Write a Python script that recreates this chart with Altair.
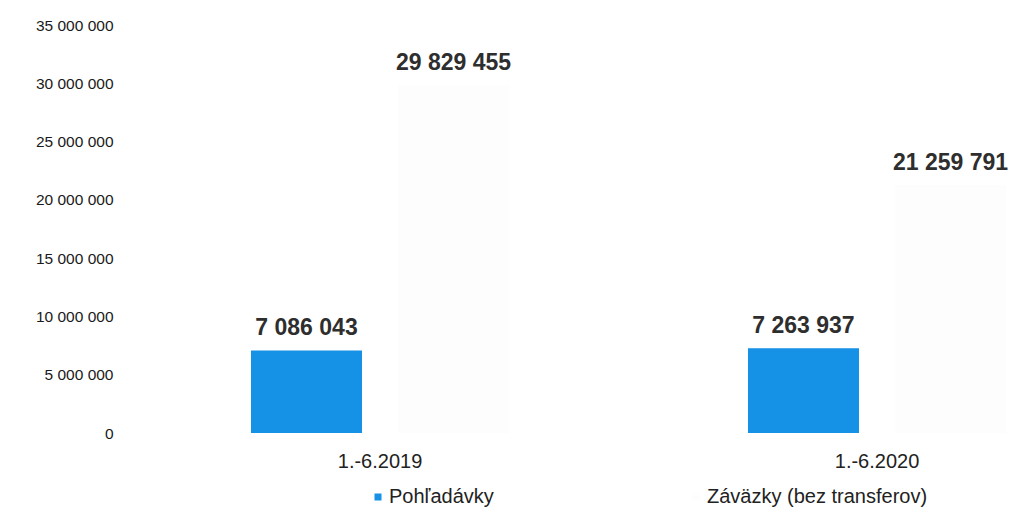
import altair as alt
import pandas as pd

periods = ["1.-6.2019", "1.-6.2020"]
series = ["Pohľadávky", "Záväzky (bez transferov)"]
pohladavky = [7086043, 7263937]
zavazky = [29829455, 21259791]
y_ticks = [0, 5000000, 10000000, 15000000, 20000000, 25000000, 30000000, 35000000]
colors = ["#1591e6", "#fdfdfd"]

rows = []
for i, p in enumerate(periods):
    for s, vals in zip(series, [pohladavky, zavazky]):
        v = vals[i]
        rows.append({"period": p, "series": s, "value": v,
                     "label": f"{v:,}".replace(",", " ")})
df = pd.DataFrame(rows)

FONT = "Liberation Sans"

x_enc = alt.X(
    "period:N", sort=periods, title=None,
    scale=alt.Scale(paddingInner=0.4648, paddingOuter=0.1278, align=1),
    axis=alt.Axis(domain=False, ticks=False, labelAngle=0, labelFont=FONT,
                  labelFontSize=20, labelColor="#222222", labelPadding=18),
)
xoff_enc = alt.XOffset(
    "series:N", sort=series,
    scale=alt.Scale(paddingInner=0.245, paddingOuter=0.027),
)
y_enc = alt.Y(
    "value:Q", title=None,
    scale=alt.Scale(domain=[0, 35000000], nice=False),
    axis=alt.Axis(values=y_ticks, domain=False, ticks=False, grid=False,
                  labelFont=FONT, labelFontSize=15.5, labelColor="#1a1a1a",
                  labelPadding=7,
                  labelExpr="replace(format(datum.value, ',d'), /,/g, ' ')"),
)

base = alt.Chart(df).encode(x=x_enc, xOffset=xoff_enc, y=y_enc)

bars = base.mark_bar().encode(
    color=alt.Color(
        "series:N", sort=series,
        scale=alt.Scale(domain=series, range=colors),
        legend=alt.Legend(
            title=None, orient="none", direction="horizontal",
            legendX=248, legendY=462,
            symbolType="square", symbolSize=49, symbolStrokeWidth=0,
            labelFont=FONT, labelFontSize=20, labelColor="#222222",
            labelOffset=1, columnPadding=192, labelLimit=400,
        ),
    )
)

text = base.mark_text(
    font=FONT, fontSize=23, fontWeight="bold", color="#2e2e2e",
    baseline="middle", dy=-22,
).encode(text="label:N")

chart = alt.layer(bars, text).properties(
    width=890, height=408,
    padding={"left": 120, "top": 25, "right": 2, "bottom": 77},
    autosize=alt.AutoSizeParams(type="none"),
    background="white",
).configure_view(stroke=None)

chart.save("out.html", embed_options={"renderer": "svg", "actions": False})
